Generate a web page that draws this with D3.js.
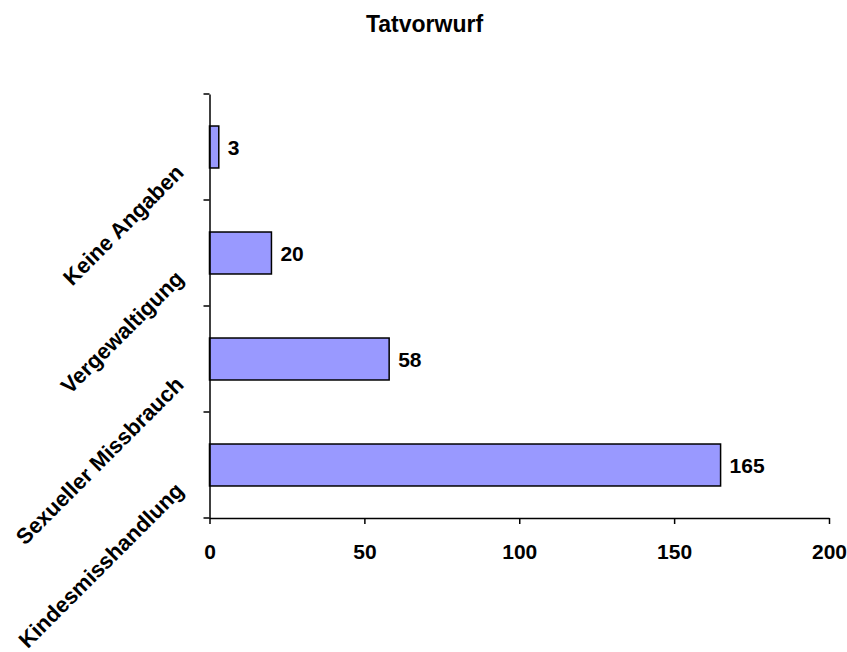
<!DOCTYPE html>
<html>
<head>
<meta charset="utf-8">
<script src="https://cdn.jsdelivr.net/npm/d3@7"></script>
<style>
  body { margin: 0; background: #fff; }
  text { font-family: Arial, "Liberation Sans", sans-serif; font-weight: bold; }
</style>
</head>
<body>
<div id="chart"></div>
<script>
var w = 847;
var h = 652;

var categories = ["Keine Angaben", "Vergewaltigung", "Sexueller Missbrauch", "Kindesmisshandlung"];
var values = [3, 20, 58, 165];
var xTicks = [0, 50, 100, 150, 200];
var title = "Tatvorwurf";

var svg = d3.select("#chart").append("svg").attr("width", w).attr("height", h);

var x = d3.scaleLinear().domain([0, 200]).range([209.5, 829]);
var y = d3.scaleBand().domain(categories).range([94, 518]).paddingInner(0.604).paddingOuter(0.302);

// title
svg.append("text")
  .attr("x", 424.5)
  .attr("y", 32)
  .attr("text-anchor", "middle")
  .attr("font-size", "23px")
  .text(title);

// bars
svg.selectAll("rect.bar")
  .data(values)
  .enter()
  .append("rect")
  .attr("class", "bar")
  .attr("x", x(0))
  .attr("y", function (d, i) { return y(categories[i]); })
  .attr("width", function (d) { return x(d) - x(0); })
  .attr("height", y.bandwidth())
  .attr("fill", "#9999ff")
  .attr("stroke", "#000")
  .attr("stroke-width", 1.5);

// value labels
svg.selectAll("text.val")
  .data(values)
  .enter()
  .append("text")
  .attr("class", "val")
  .attr("x", function (d) { return x(d) + 9; })
  .attr("y", function (d, i) { return y(categories[i]) + y.bandwidth() / 2; })
  .attr("dy", "0.36em")
  .attr("font-size", "21px")
  .text(function (d) { return d; });

// x axis
var xAxis = svg.append("g")
  .attr("transform", "translate(0,518)")
  .call(d3.axisBottom(x).tickValues(xTicks).tickSize(6).tickPadding(20).tickSizeOuter(0));
xAxis.select(".domain").attr("stroke", "#000").attr("stroke-width", 1.5);
xAxis.selectAll(".tick line").attr("stroke", "#000").attr("stroke-width", 1.5);
xAxis.selectAll(".tick text")
  .attr("font-size", "21px")
  .attr("font-family", "Arial, 'Liberation Sans', sans-serif")
  .attr("font-weight", "bold")
  .attr("fill", "#000");

// y axis: line plus ticks between categories
var yAxis = svg.append("g").attr("transform", "translate(" + x(0) + ",0)");
yAxis.call(d3.axisLeft(y).tickSize(0).tickFormat(""));
yAxis.select(".domain").attr("stroke", "#000").attr("stroke-width", 1.5);
var bounds = [y.range()[0]].concat(categories.map(function (c) { return y(c) + y.bandwidth() + y.step() * 0.302; }));
yAxis.selectAll("line.sep")
  .data(bounds)
  .enter()
  .append("line")
  .attr("class", "sep")
  .attr("x1", -6)
  .attr("x2", 0)
  .attr("y1", function (d) { return d; })
  .attr("y2", function (d) { return d; })
  .attr("stroke", "#000")
  .attr("stroke-width", 1.5);

// category labels, rotated
svg.selectAll("text.cat")
  .data(categories)
  .enter()
  .append("text")
  .attr("class", "cat")
  .attr("text-anchor", "end")
  .attr("font-size", "22px")
  .attr("transform", function (d) {
    return "translate(185," + (y(d) + y.bandwidth() / 2 + 27) + ") rotate(-45)";
  })
  .text(function (d) { return d; });
</script>
</body>
</html>
